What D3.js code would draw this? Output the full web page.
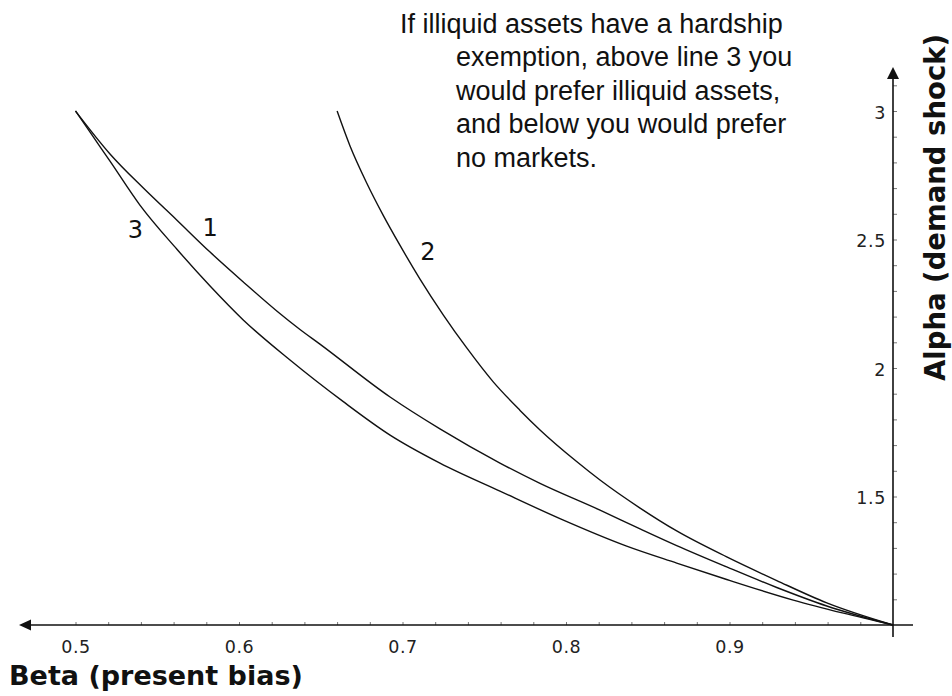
<!DOCTYPE html>
<html><head><meta charset="utf-8">
<script src="https://cdn.jsdelivr.net/npm/d3@7"></script>
<style>body{margin:0;background:#fff}svg{display:block}</style>
</head><body><svg id="c" width="952" height="696"></svg>
<script>
// ---- data ----
const line1Beta  = [0.500,0.5211,0.5415,0.5619,0.5823,0.6026,0.6231,0.6373,0.6495,0.6924,0.7229,0.7596,0.7841,0.8208,0.8453,0.8677,0.8983,0.9289,0.9595,1.000];
const line1Alpha = [3.000,2.833,2.700,2.576,2.451,2.335,2.222,2.150,2.093,1.887,1.763,1.630,1.551,1.447,1.374,1.309,1.226,1.146,1.074,1.000];
const line2Beta  = [0.660,0.6679,0.6781,0.6883,0.6985,0.7107,0.7250,0.7393,0.7555,0.7719,0.7841,0.8065,0.8208,0.8453,0.8677,0.8983,0.9289,0.9595,1.000];
const line2Alpha = [3.000,2.864,2.720,2.593,2.477,2.346,2.206,2.078,1.946,1.835,1.759,1.636,1.564,1.455,1.366,1.265,1.173,1.086,1.000];
const line3Beta  = [0.500,0.5109,0.5211,0.5394,0.5619,0.5823,0.6026,0.6312,0.6638,0.6924,0.7229,0.7596,0.7963,0.8371,0.8677,0.8983,0.9390,0.9697,1.000];
const line3Alpha = [3.000,2.899,2.805,2.634,2.463,2.319,2.187,2.031,1.869,1.739,1.630,1.521,1.414,1.307,1.241,1.177,1.097,1.046,1.000];
const lineNames = ["1","2","3"];
const labelBeta  = [0.5823,0.7156,0.5367];
const labelAlpha = [2.549,2.455,2.541];
const xTickLabels = [0.5,0.6,0.7,0.8,0.9];
const yTickLabels = [1.5,2,2.5,3];
const xTitle = "Beta (present bias)";
const yTitle = "Alpha (demand shock)";
const noteLines = ["If illiquid assets have a hardship","exemption, above line 3 you","would prefer illiquid assets,","and below you would prefer","no markets."];

// ---- drawing ----
const svg = d3.select("#c");
const x = d3.scaleLinear().domain([0.5,1.0]).range([75.5,893]);
const y = d3.scaleLinear().domain([1,3]).range([625,111]);
const X0 = x(1.0), Y0 = y(1);

// minor ticks
const xMinor = d3.range(0.5,0.99,0.02);
const yMinor = d3.range(1.1,3.15,0.1);
svg.append("g").attr("transform",`translate(0,${Y0})`)
  .call(d3.axisBottom(x).tickValues(xMinor).tickSize(-3).tickFormat(""))
  .call(g=>g.select(".domain").remove())
  .selectAll("line").attr("stroke","#777").attr("stroke-width",1);
svg.append("g").attr("transform",`translate(${X0},0)`)
  .call(d3.axisRight(y).tickValues(yMinor).tickSize(4).tickFormat(""))
  .call(g=>g.select(".domain").remove())
  .selectAll("line").attr("stroke","#777").attr("stroke-width",1);

// axis lines with arrows
svg.append("line").attr("x1",24).attr("x2",913).attr("y1",Y0).attr("y2",Y0).attr("stroke","#111").attr("stroke-width",1.6);
svg.append("line").attr("x1",X0).attr("x2",X0).attr("y1",637).attr("y2",74).attr("stroke","#111").attr("stroke-width",1.6);
svg.append("path").attr("d",`M19,${Y0} L31,${Y0-5.5} L31,${Y0+5.5} Z`).attr("fill","#111");
svg.append("path").attr("d",`M${X0},67 L${X0-6},79 L${X0+6},79 Z`).attr("fill","#111");

// tick labels
const xl = svg.append("g").attr("transform",`translate(0,${Y0})`)
  .call(d3.axisBottom(x).tickValues(xTickLabels).tickSize(0).tickPadding(16).tickFormat(d3.format(".1f")));
xl.select(".domain").remove();
xl.selectAll("text").attr("font-family","DejaVu Sans").attr("font-size",17.5).attr("letter-spacing","0.6px").attr("fill","#222");
const yl = svg.append("g").attr("transform",`translate(${X0},0)`)
  .call(d3.axisLeft(y).tickValues(yTickLabels).tickSize(0).tickPadding(7).tickFormat(d=>String(d)));
yl.select(".domain").remove();
yl.selectAll("text").attr("font-family","DejaVu Sans").attr("font-size",17.5).attr("letter-spacing","0.6px").attr("fill","#222").attr("dy","0.42em");

// curves
const lineGen = d3.line().x(d=>x(d[0])).y(d=>y(d[1])).curve(d3.curveMonotoneX);
const series = [
  d3.zip(line1Beta,line1Alpha),
  d3.zip(line2Beta,line2Alpha),
  d3.zip(line3Beta,line3Alpha)
];
svg.selectAll("path.curve").data(series).join("path").attr("class","curve")
  .attr("d",lineGen).attr("fill","none").attr("stroke","#111").attr("stroke-width",1.4);

// curve labels
svg.selectAll("text.cl").data(lineNames).join("text").attr("class","cl")
  .attr("x",(d,i)=>x(labelBeta[i])).attr("y",(d,i)=>y(labelAlpha[i]))
  .attr("dy","0.36em").attr("text-anchor","middle")
  .attr("font-family","DejaVu Sans").attr("font-size",24).attr("fill","#111").text(d=>d);

// annotation
const note = svg.append("text").attr("font-family","Liberation Sans, Arial").attr("font-size",27).attr("fill","#111");
note.selectAll("tspan").data(noteLines).join("tspan")
  .attr("x",(d,i)=>i===0?400:456).attr("y",(d,i)=>32.5+i*33.5).text(d=>d);

// axis titles
svg.append("text").attr("x",9).attr("y",685).attr("font-family","DejaVu Sans").attr("font-weight","bold")
  .attr("font-size",27).attr("fill","#111").text(xTitle);
svg.append("text").attr("transform","translate(945,381) rotate(-90)").attr("font-family","DejaVu Sans").attr("font-weight","bold")
  .attr("font-size",27.5).attr("fill","#111").text(yTitle);
</script>
</body></html>
